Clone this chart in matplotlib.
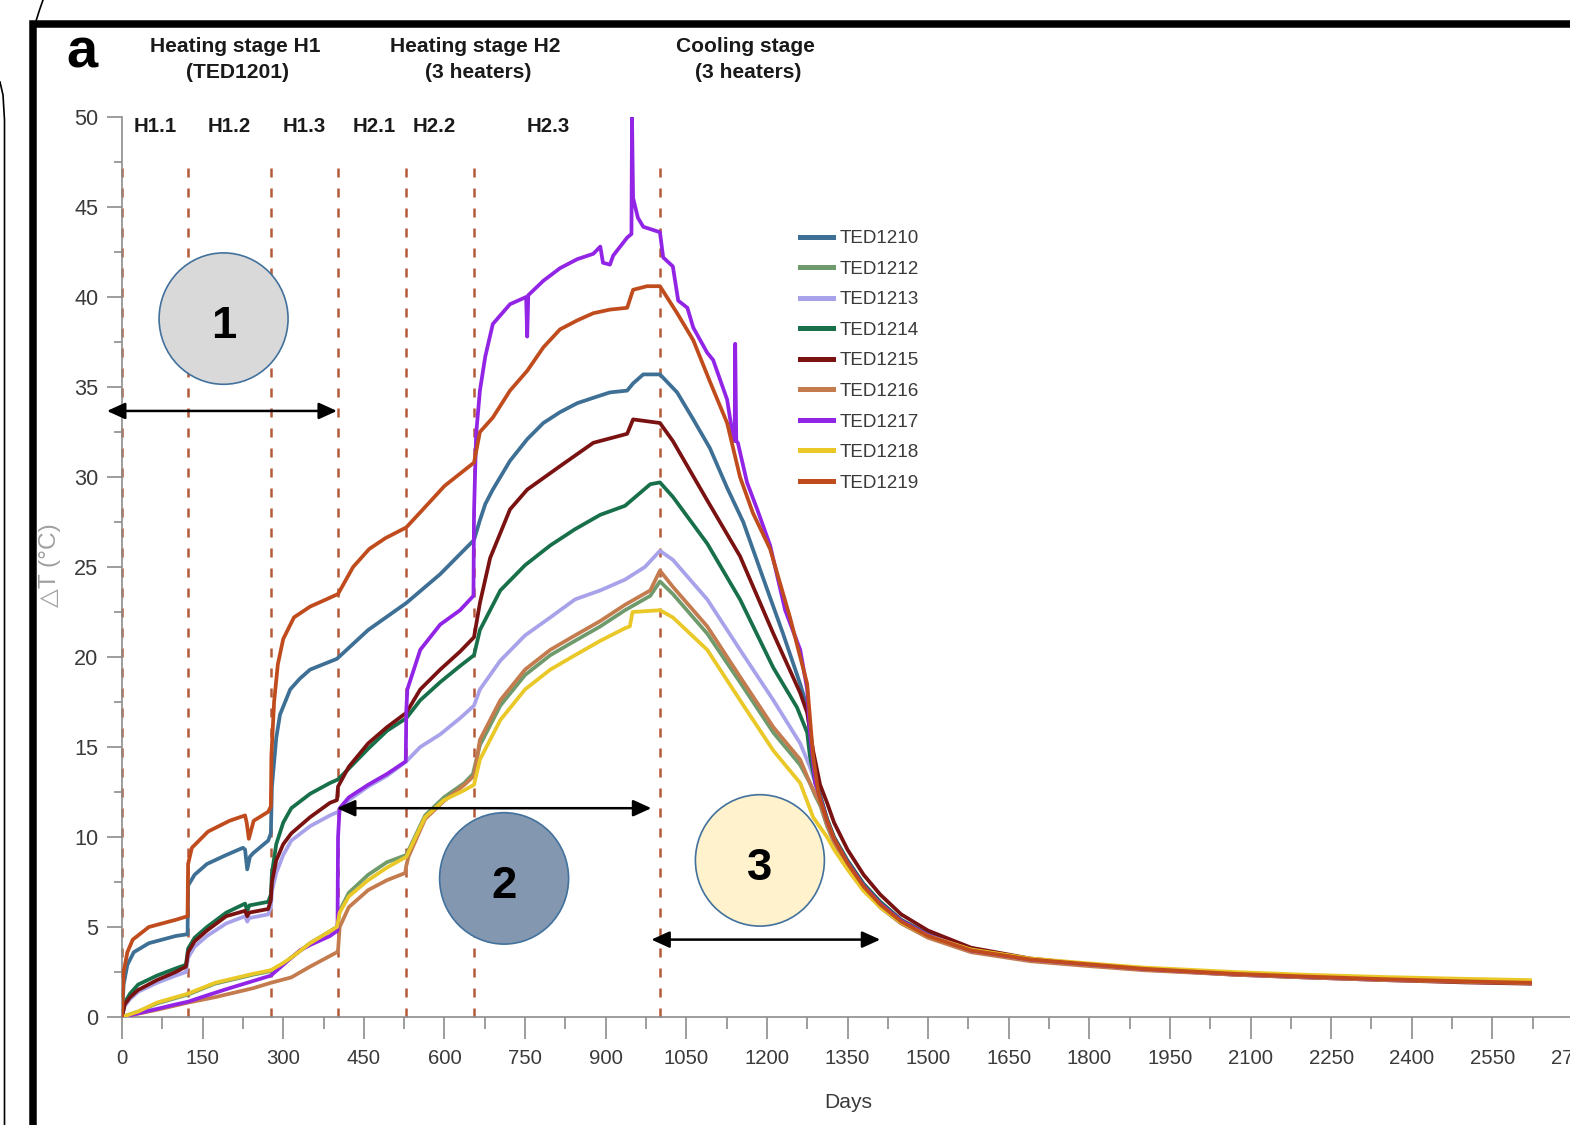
import matplotlib
matplotlib.use('Agg')
import matplotlib.pyplot as plt
from matplotlib import font_manager
from matplotlib.patches import Ellipse, Rectangle
from matplotlib.lines import Line2D
from matplotlib.ticker import MultipleLocator

# ---------------- data (days, delta T in deg C) ----------------
series_names = ["TED1210", "TED1212", "TED1213", "TED1214", "TED1215",
                "TED1216", "TED1217", "TED1218", "TED1219"]
series_colors = ["#3e6f95", "#6f9a6c", "#a8a2ea", "#17704a", "#7b1212",
                 "#c47b4e", "#9224e6", "#e9c827", "#c04b1d"]

TED1210 = [(0,0),(3,1.8),(10,2.9),(22,3.6),(50,4.1),(100,4.5),(122,4.6),(123,7.3),(135,7.9),(158,8.5),(194,9.0),(225,9.4),(229,9.3),(233,8.2),(238,8.9),(244,9.1),(272,9.8),(277,10.2),(279,12.8),(287,15.5),(294,16.8),(313,18.2),(331,18.8),(350,19.3),(400,19.9),(458,21.5),(529,23.0),(592,24.6),(655,26.5),(666,27.6),(676,28.5),(690,29.3),(722,30.9),(754,32.1),(784,33.0),(815,33.6),(847,34.1),(877,34.4),(908,34.7),(940,34.8),(951,35.2),(970,35.7),(1001,35.7),(1033,34.7),(1063,33.2),(1094,31.6),(1126,29.4),(1156,27.5),(1200,23.8),(1230,21.3),(1262,18.5),(1275,17.2),(1280,15.8),(1290,13.5),(1300,12.2),(1312,11.0),(1325,9.95),(1350,8.6),(1380,7.3),(1411,6.3),(1450,5.35),(1500,4.55),(1580,3.7),(1690,3.2),(1790,2.95),(1900,2.68),(2070,2.4),(2200,2.25),(2350,2.1),(2500,2.0),(2620,1.92)]
TED1212 = [(0,0),(30,0.3),(65,0.75),(123,1.25),(173,1.85),(244,2.35),(277,2.55),(300,2.95),(315,3.3),(350,4.1),(400,5.0),(402,5.3),(405,5.9),(422,6.9),(458,7.9),(493,8.6),(529,9.0),(564,11.2),(599,12.2),(637,13.0),(653,13.5),(666,15.1),(704,17.3),(750,19.0),(797,20.1),(843,20.9),(890,21.7),(936,22.6),(983,23.4),(1001,24.2),(1025,23.5),(1089,21.3),(1150,18.6),(1212,15.8),(1262,14.0),(1280,13.0),(1290,12.3),(1300,11.7),(1312,10.6),(1325,9.7),(1350,8.4),(1380,7.1),(1411,6.1),(1450,5.2),(1500,4.45),(1580,3.65),(1690,3.15),(1790,2.9),(1900,2.65),(2070,2.4),(2200,2.25),(2350,2.12),(2500,2.02),(2620,1.95)]
TED1213 = [(0,0),(5,0.6),(15,1.0),(30,1.4),(65,1.9),(100,2.3),(119,2.5),(123,3.3),(135,3.9),(158,4.5),(194,5.2),(229,5.6),(233,5.3),(237,5.5),(272,5.7),(277,6.1),(279,7.0),(287,8.0),(300,9.0),(315,9.8),(350,10.6),(387,11.2),(402,11.4),(422,12.05),(458,12.8),(493,13.4),(529,14.2),(555,15.0),(592,15.7),(629,16.6),(655,17.3),(666,18.2),(704,19.8),(750,21.2),(797,22.2),(843,23.2),(890,23.7),(936,24.3),(973,25.0),(1001,25.9),(1025,25.4),(1089,23.2),(1150,20.4),(1212,17.6),(1262,15.2),(1280,13.9),(1290,13.0),(1300,12.1),(1312,10.9),(1325,9.9),(1350,8.6),(1380,7.3),(1411,6.3),(1450,5.35),(1500,4.55),(1580,3.7),(1690,3.2),(1790,2.95),(1900,2.7),(2070,2.42),(2200,2.28),(2350,2.14),(2500,2.04),(2620,1.96)]
TED1214 = [(0,0),(5,0.8),(15,1.3),(30,1.8),(65,2.3),(100,2.7),(119,2.9),(123,3.8),(135,4.4),(158,5.0),(194,5.8),(229,6.3),(233,5.9),(237,6.2),(272,6.4),(277,6.8),(279,8.0),(287,9.6),(300,10.8),(315,11.6),(350,12.4),(387,13.0),(402,13.2),(422,13.8),(458,14.9),(493,15.9),(529,16.6),(555,17.6),(592,18.6),(629,19.5),(655,20.1),(666,21.5),(704,23.7),(750,25.1),(797,26.2),(843,27.1),(890,27.9),(936,28.4),(983,29.6),(1001,29.7),(1025,28.9),(1089,26.3),(1150,23.2),(1212,19.4),(1256,17.2),(1275,15.8),(1280,14.5),(1290,13.0),(1300,12.2),(1312,11.0),(1325,10.0),(1350,8.7),(1380,7.4),(1411,6.4),(1450,5.4),(1500,4.6),(1580,3.75),(1690,3.22),(1790,2.95),(1900,2.7),(2070,2.42),(2200,2.27),(2350,2.12),(2500,2.0),(2620,1.92)]
TED1215 = [(0,0),(5,0.7),(15,1.1),(30,1.5),(65,2.05),(100,2.5),(119,2.8),(123,3.6),(135,4.2),(158,4.8),(194,5.6),(229,5.9),(233,5.6),(237,5.8),(272,6.0),(277,6.5),(279,7.5),(287,8.7),(300,9.6),(315,10.2),(350,11.1),(387,11.9),(400,12.05),(402,12.8),(422,13.9),(458,15.2),(493,16.1),(529,16.9),(555,18.2),(592,19.3),(629,20.3),(655,21.1),(666,23.0),(685,25.5),(722,28.2),(754,29.3),(815,30.6),(877,31.9),(940,32.4),(951,33.2),(1001,33.0),(1025,32.0),(1089,28.7),(1150,25.6),(1212,21.3),(1262,18.0),(1275,16.9),(1286,14.8),(1299,12.9),(1312,11.9),(1325,10.8),(1350,9.3),(1380,7.9),(1411,6.8),(1450,5.7),(1500,4.8),(1580,3.85),(1690,3.25),(1790,2.95),(1900,2.65),(2070,2.35),(2200,2.2),(2350,2.05),(2500,1.92),(2620,1.85)]
TED1216 = [(0,0),(65,0.4),(123,0.8),(173,1.1),(244,1.6),(277,1.9),(315,2.2),(350,2.8),(400,3.6),(402,3.7),(405,5.0),(422,6.1),(458,7.05),(493,7.6),(527,8.0),(529,8.4),(533,8.9),(564,11.0),(599,12.0),(637,12.9),(655,13.4),(666,15.4),(704,17.6),(750,19.3),(797,20.4),(843,21.2),(890,22.0),(936,22.9),(983,23.7),(1001,24.8),(1025,23.9),(1089,21.7),(1150,18.9),(1212,16.1),(1262,14.3),(1280,13.0),(1290,12.4),(1300,11.8),(1312,10.7),(1325,9.7),(1350,8.4),(1380,7.1),(1411,6.1),(1450,5.2),(1500,4.4),(1580,3.6),(1690,3.1),(1790,2.85),(1900,2.6),(2070,2.35),(2200,2.2),(2350,2.05),(2500,1.95),(2620,1.88)]
TED1217 = [(0,0),(30,0.2),(65,0.45),(100,0.7),(123,0.85),(158,1.2),(200,1.6),(244,2.0),(277,2.3),(300,2.9),(331,3.7),(350,4.0),(387,4.5),(401,4.8),(402,10.0),(405,11.6),(422,12.2),(458,12.9),(493,13.5),(528,14.2),(529,17.0),(531,18.2),(555,20.4),(592,21.8),(629,22.6),(654,23.4),(655,28.0),(659,32.4),(666,34.8),(676,36.7),(690,38.5),(722,39.6),(752,40.0),(754,37.8),(756,40.1),(784,40.9),(815,41.6),(847,42.1),(877,42.4),(890,42.8),(895,41.9),(908,41.8),(914,42.3),(940,43.3),(948,43.5),(949,50.0),(951,45.5),(960,44.4),(970,43.9),(1001,43.6),(1007,42.2),(1025,41.7),(1035,39.8),(1052,39.4),(1063,38.3),(1089,36.9),(1100,36.5),(1126,34.3),(1137,32.2),(1140,32.0),(1141,37.4),(1143,32.0),(1146,31.9),(1163,29.7),(1182,28.2),(1206,26.2),(1234,22.6),(1262,20.4),(1275,18.2),(1280,15.8),(1290,13.0),(1300,12.1),(1312,10.9),(1325,9.9),(1350,8.6),(1380,7.3),(1411,6.3),(1450,5.35),(1500,4.55),(1580,3.7),(1690,3.2),(1790,2.95),(1900,2.68),(2070,2.4),(2200,2.25),(2350,2.1),(2500,2.0),(2620,1.93)]
TED1218 = [(0,0),(30,0.3),(65,0.8),(123,1.3),(173,1.9),(244,2.4),(277,2.6),(300,3.0),(315,3.3),(350,4.1),(400,5.0),(402,5.3),(405,5.8),(422,6.7),(458,7.6),(493,8.3),(529,8.9),(564,11.1),(599,12.05),(637,12.6),(655,12.9),(666,14.3),(704,16.5),(750,18.2),(797,19.3),(843,20.1),(890,20.9),(936,21.6),(945,21.7),(950,22.5),(1001,22.6),(1025,22.2),(1089,20.4),(1150,17.6),(1212,14.8),(1262,13.0),(1286,11.1),(1300,10.5),(1312,10.0),(1325,9.3),(1350,8.2),(1380,7.0),(1411,6.1),(1450,5.25),(1500,4.5),(1580,3.75),(1690,3.25),(1790,3.0),(1900,2.75),(2070,2.5),(2200,2.35),(2350,2.22),(2500,2.12),(2620,2.05)]
TED1219 = [(0,0),(3,2.5),(10,3.6),(20,4.3),(50,5.0),(100,5.4),(122,5.6),(123,8.5),(130,9.4),(160,10.3),(200,10.9),(229,11.2),(232,10.8),(236,9.9),(245,10.9),(272,11.4),(277,11.7),(278,14.5),(283,17.5),(290,19.6),(300,21.0),(320,22.2),(350,22.8),(380,23.2),(402,23.5),(430,25.0),(460,26.0),(490,26.6),(529,27.2),(560,28.2),(600,29.5),(655,30.8),(666,32.5),(690,33.3),(722,34.8),(754,35.9),(784,37.2),(815,38.2),(847,38.7),(877,39.1),(908,39.3),(940,39.4),(951,40.4),(977,40.6),(1001,40.6),(1033,39.1),(1063,37.6),(1094,35.3),(1126,33.0),(1150,30.0),(1174,28.0),(1206,26.0),(1243,22.2),(1275,18.5),(1286,14.5),(1295,12.6),(1300,12.0),(1312,10.9),(1325,9.9),(1350,8.55),(1380,7.25),(1411,6.25),(1450,5.3),(1500,4.5),(1580,3.7),(1690,3.2),(1790,2.95),(1900,2.68),(2070,2.4),(2200,2.25),(2350,2.1),(2500,1.98),(2620,1.9)]

series_data = [TED1210, TED1212, TED1213, TED1214, TED1215,
               TED1216, TED1217, TED1218, TED1219]

stage_bounds = [0, 123, 277, 402, 529, 655, 1001]
phase_labels = ["H1.1", "H1.2", "H1.3", "H2.1", "H2.2", "H2.3"]
phase_label_x = [61, 199, 339, 469, 581, 793]

stage_titles = [("Heating stage H1", "(TED1201)"),
                ("Heating stage H2", "(3 heaters)"),
                ("Cooling stage", "(3 heaters)")]
stage_title_x = [210, 657, 1160]

circle_labels = ["1", "2", "3"]
circle_x = [189, 711, 1187]
circle_y = [38.8, 7.7, 8.7]
circle_colors = ["#d9d9d9", "#8497b0", "#fff2cc"]

arrow_x0 = [-28, 400, 985]
arrow_x1 = [400, 985, 1411]
arrow_y = [33.67, 11.6, 4.3]

xticks_major = 150
xticks_minor = 75
yticks_major = 5
yticks_minor = 2.5

# ---------------- fonts ----------------
names = {f.name for f in font_manager.fontManager.ttflist}
if 'Liberation Sans Narrow' in names:
    FAM, K = 'Liberation Sans Narrow', 1.0
else:
    FAM, K = 'Liberation Sans', 0.84
plt.rcParams['font.family'] = [FAM, 'DejaVu Sans']

W, H = 1570, 1125
def fx(px): return px / W
def fy(py): return 1 - py / H

fig = plt.figure(figsize=(W / 100, H / 100), dpi=100)
fig.patch.set_facecolor('white')
ax = fig.add_axes([fx(122), fy(1017), fx(1573) - fx(122), fy(117) - fy(1017)])
ax.set_facecolor('none')
ax.set_xlim(0, 2700)
ax.set_ylim(0, 50)

# stage boundaries
for b in stage_bounds:
    ax.plot([b, b], [0, 47.6], color="#b55a38", lw=1.8,
            linestyle=(0, (3.6, 4.4)), zorder=2, clip_on=False)

# series
handles = []
for nm, col, dat in zip(series_names, series_colors, series_data):
    xs = [p[0] for p in dat]
    ys = [p[1] for p in dat]
    ln, = ax.plot(xs, ys, color=col, lw=2.7, solid_joinstyle='round',
                  label=nm, zorder=3)
    handles.append(ln)

# spines & ticks
for s in ['top', 'right']:
    ax.spines[s].set_visible(False)
for s in ['left', 'bottom']:
    ax.spines[s].set_color('#8c8c8c')
    ax.spines[s].set_linewidth(1.2)
ax.xaxis.set_major_locator(MultipleLocator(xticks_major))
ax.xaxis.set_minor_locator(MultipleLocator(xticks_minor))
ax.yaxis.set_major_locator(MultipleLocator(yticks_major))
ax.yaxis.set_minor_locator(MultipleLocator(yticks_minor))
ax.tick_params(axis='x', which='major', length=16, width=1.2, color='#8c8c8c',
               pad=7, labelsize=17.5 * K, labelcolor='#3a3a3a')
ax.tick_params(axis='x', which='minor', length=8.5, width=1.2, color='#8c8c8c')
ax.tick_params(axis='y', which='major', length=11, width=1.2, color='#8c8c8c',
               pad=6, labelsize=18.5 * K, labelcolor='#3a3a3a')
ax.tick_params(axis='y', which='minor', length=5.5, width=1.2, color='#8c8c8c')
ax.set_xticks([t for t in range(0, 2701, xticks_major)])

fig.text(fx(848), fy(1103), "Days", ha='center', va='center',
         fontsize=18 * K, color='#3a3a3a')
fig.text(fx(50), fy(565), "△T (°C)", ha='center', va='center', rotation=90,
         fontsize=21 * K, color='#a0a0a0', family=[FAM, 'DejaVu Sans'])

# phase labels
for lab, x in zip(phase_labels, phase_label_x):
    ax.text(x, 49.5, lab, ha='center', va='center', fontsize=17.5 * K,
            fontweight='bold', color='#1a1a1a', clip_on=False)

# stage titles
for (l1, l2), x in zip(stage_titles, stage_title_x):
    ax.text(x, (1017 - 46) / 18, l1, ha='center', va='center', fontsize=18 * K,
            fontweight='bold', color='#1a1a1a', clip_on=False)
    ax.text(x + 5, (1017 - 73) / 18, l2, ha='center', va='center', fontsize=18 * K,
            fontweight='bold', color='#1a1a1a', clip_on=False)

fig.text(fx(82), fy(68), "a", ha='center', va='baseline', fontsize=48 * K,
         fontweight='bold', color='black')

# circles
for lab, cx, cy, fc in zip(circle_labels, circle_x, circle_y, circle_colors):
    e = Ellipse((cx, cy), 240, 7.3, facecolor=fc, edgecolor='#41719c',
                lw=1.2, zorder=6, clip_on=False)
    ax.add_patch(e)
    ax.text(cx, cy - 1.1, lab, ha='center', va='baseline', fontsize=39 * K,
            fontweight='bold', color='black', zorder=7)

# arrows
for x0, x1, y in zip(arrow_x0, arrow_x1, arrow_y):
    ax.annotate('', xy=(x1, y), xytext=(x0, y),
                arrowprops=dict(arrowstyle='<|-|>,head_length=0.55,head_width=0.25',
                                mutation_scale=20, lw=1.8, color='black',
                                shrinkA=0, shrinkB=0),
                annotation_clip=False, zorder=8)

# legend
leg = ax.legend(handles=handles, loc='upper left',
                bbox_to_anchor=(fx(800), fy(230)), bbox_transform=fig.transFigure,
                frameon=False, borderpad=0, borderaxespad=0,
                handlelength=1.75, handletextpad=0.35, labelspacing=0.705,
                fontsize=16.2 * K)
for t in leg.get_texts():
    t.set_color('#3a3a3a')
for l in leg.get_lines():
    l.set_linewidth(3.6)

# outer frame and stray strokes
fig.add_artist(Rectangle((fx(32.5), fy(1300)), 2, fy(24) - fy(1300),
                         transform=fig.transFigure, fill=False, lw=5.4,
                         ec='black'))
fig.add_artist(Line2D([fx(43), fx(39.5), fx(36)], [fy(0), fy(10), fy(21)],
                      transform=fig.transFigure, color='black', lw=1.2))
fig.add_artist(Line2D([fx(0), fx(3), fx(4.5), fx(4.5)],
                      [fy(82), fy(95), fy(120), fy(1125)],
                      transform=fig.transFigure, color='black', lw=1.2))

fig.savefig('out.png', dpi=100)
